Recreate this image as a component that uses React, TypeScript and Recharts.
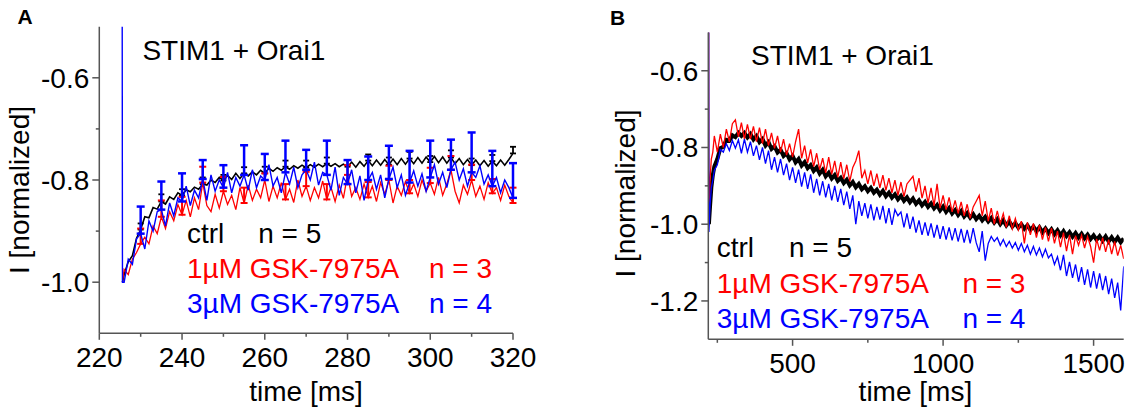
import React from 'react';
import { LineChart, Line, XAxis, YAxis, ErrorBar } from 'recharts';

const FONT = '"Liberation Sans", Arial, Helvetica, sans-serif';
const AXIS = '#555555';
const RED = '#ff0000';
const BLUE = '#0000ff';
const BLACK = '#000000';

// ---------- Panel A (time in ms, 220–320) ----------
const timeA = [
  225.5, 225.6,
  226, 227, 228, 229, 230, 231, 232, 233, 234, 235,
  236, 237, 238, 239, 240, 241, 242, 243, 244, 245,
  246, 247, 248, 249, 250, 251, 252, 253, 254, 255,
  256, 257, 258, 259, 260, 261, 262, 263, 264, 265,
  266, 267, 268, 269, 270, 271, 272, 273, 274, 275,
  276, 277, 278, 279, 280, 281, 282, 283, 284, 285,
  286, 287, 288, 289, 290, 291, 292, 293, 294, 295,
  296, 297, 298, 299, 300, 301, 302, 303, 304, 305,
  306, 307, 308, 309, 310, 311, 312, 313, 314, 315,
  316, 317, 318, 319, 320,
];

const ctrlA = [
  null, -1.0,
  -0.985, -0.96, -0.948, -0.914, -0.897, -0.872, -0.874, -0.854, -0.857, -0.842,
  -0.847, -0.833, -0.838, -0.825, -0.83, -0.819, -0.823, -0.814, -0.818, -0.808,
  -0.81, -0.8, -0.805, -0.795, -0.801, -0.791, -0.799, -0.787, -0.797, -0.787,
  -0.792, -0.784, -0.79, -0.781, -0.787, -0.777, -0.783, -0.776, -0.781, -0.774,
  -0.779, -0.772, -0.777, -0.771, -0.776, -0.77, -0.775, -0.769, -0.774, -0.768,
  -0.773, -0.768, -0.774, -0.769, -0.774, -0.765, -0.775, -0.764, -0.773, -0.762,
  -0.772, -0.761, -0.771, -0.76, -0.77, -0.759, -0.77, -0.758, -0.769, -0.758,
  -0.768, -0.756, -0.767, -0.755, -0.765, -0.754, -0.766, -0.755, -0.767, -0.756,
  -0.768, -0.758, -0.77, -0.76, -0.771, -0.761, -0.772, -0.762, -0.773, -0.763,
  -0.772, -0.761, -0.771, -0.76, -0.748,
];

const gsk1A = [
  null, -1.0,
  -0.975, -0.985, -0.955, -0.942, -0.925, -0.912, -0.925, -0.89, -0.905, -0.872,
  -0.895, -0.862, -0.88, -0.848, -0.868, -0.84, -0.872, -0.835, -0.858, -0.805,
  -0.85, -0.862, -0.828, -0.855, -0.822, -0.848, -0.83, -0.858, -0.815, -0.845,
  -0.81, -0.84, -0.818, -0.835, -0.8, -0.842, -0.812, -0.835, -0.805, -0.838,
  -0.818, -0.844, -0.8, -0.832, -0.812, -0.84, -0.815, -0.835, -0.802, -0.838,
  -0.814, -0.842, -0.81, -0.836, -0.79, -0.832, -0.815, -0.838, -0.808, -0.834,
  -0.812, -0.842, -0.805, -0.828, -0.8, -0.845, -0.812, -0.83, -0.803, -0.826,
  -0.808, -0.832, -0.8, -0.822, -0.806, -0.828, -0.795, -0.83, -0.808, -0.78,
  -0.822, -0.845, -0.81, -0.828, -0.8, -0.832, -0.812, -0.838, -0.805, -0.826,
  -0.815, -0.84, -0.81, -0.832, -0.845,
];

const gsk3A = [
  -0.2, -1.0,
  -1.0, -0.955, -0.965, -0.915, -0.905, -0.935, -0.88, -0.9, -0.862, -0.858,
  -0.89, -0.845, -0.87, -0.835, -0.842, -0.812, -0.85, -0.82, -0.835, -0.798,
  -0.84, -0.79, -0.822, -0.8, -0.815, -0.785, -0.825, -0.795, -0.812, -0.79,
  -0.82, -0.78, -0.815, -0.792, -0.8, -0.77, -0.812, -0.795, -0.825, -0.785,
  -0.808, -0.775, -0.815, -0.79, -0.78, -0.8, -0.765, -0.81, -0.785, -0.79,
  -0.82, -0.775, -0.83, -0.795, -0.808, -0.78, -0.825, -0.792, -0.84, -0.8,
  -0.785, -0.818, -0.79, -0.835, -0.798, -0.775, -0.815, -0.79, -0.83, -0.805,
  -0.782, -0.812, -0.788, -0.822, -0.795, -0.77, -0.808, -0.785, -0.815, -0.78,
  -0.765, -0.8, -0.778, -0.812, -0.785, -0.795, -0.772, -0.808, -0.79, -0.812,
  -0.795, -0.825, -0.8, -0.815, -0.835,
];

const errTimesA = [230, 235, 240, 245, 250, 255, 260, 265, 270, 275, 280, 285, 290, 295, 300, 305, 310, 315, 320];
const errCtrlA = [0.012, 0.014, 0.012, 0.013, 0.011, 0.012, 0.013, 0.012, 0.014, 0.012, 0.013, 0.012, 0.014, 0.013, 0.012, 0.014, 0.013, 0.012, 0.013];
const errGsk1A = [0.03, 0.032, 0.035, 0.031, 0.028, 0.03, 0.013, 0.03, 0.028, 0.03, 0.019, 0.03, 0.028, 0.026, 0.03, 0.027, 0.03, 0.028, 0.03];
const errGsk3A = [0.053, 0.055, 0.055, 0.037, 0.044, 0.058, 0.051, 0.062, 0.039, 0.067, 0.047, 0.046, 0.065, 0.062, 0.072, 0.059, 0.078, 0.069, 0.068];

const xTicksA = [220, 230, 240, 250, 260, 270, 280, 290, 300, 310, 320];
const xMajorsA = [220, 240, 260, 280, 300, 320];
const yTicksA = [-1.0, -0.9, -0.8, -0.7, -0.6];
const yMajorsA = [-1.0, -0.8, -0.6];

// ---------- Panel B (time in ms, 220–1600) ----------
const timeB = [
  221, 222, 226, 230, 235, 240,
  250, 260, 270, 280, 290, 300, 310, 320, 330, 340,
  350, 360, 370, 380, 390, 400, 410, 420, 430, 440,
  450, 460, 470, 480, 490, 500, 510, 520, 530, 540,
  550, 560, 570, 580, 590, 600, 610, 620, 630, 640,
  650, 660, 670, 680, 690, 700, 710, 720, 730, 740,
  750, 760, 770, 780, 790, 800, 810, 820, 830, 840,
  850, 860, 870, 880, 890, 900, 910, 920, 930, 940,
  950, 960, 970, 980, 990, 1000, 1010, 1020, 1030, 1040,
  1050, 1060, 1070, 1080, 1090, 1100, 1110, 1120, 1130, 1140,
  1150, 1160, 1170, 1180, 1190, 1200, 1210, 1220, 1230, 1240,
  1250, 1260, 1270, 1280, 1290, 1300, 1310, 1320, 1330, 1340,
  1350, 1360, 1370, 1380, 1390, 1400, 1410, 1420, 1430, 1440,
  1450, 1460, 1470, 1480, 1490, 1500, 1510, 1520, 1530, 1540,
  1550, 1560, 1570, 1580, 1590, 1600,
];

const ctrlB = [
  null, -1.0, -0.95, -0.905, -0.872, -0.85,
  -0.83, -0.802, -0.798, -0.78, -0.782, -0.768, -0.773, -0.762, -0.77, -0.762,
  -0.774, -0.765, -0.779, -0.77, -0.786, -0.778, -0.795, -0.786, -0.804, -0.797,
  -0.813, -0.806, -0.822, -0.815, -0.831, -0.822, -0.839, -0.83, -0.847, -0.838,
  -0.854, -0.846, -0.861, -0.852, -0.868, -0.858, -0.875, -0.866, -0.881, -0.872,
  -0.887, -0.879, -0.893, -0.884, -0.899, -0.89, -0.904, -0.895, -0.909, -0.901,
  -0.914, -0.905, -0.918, -0.91, -0.923, -0.913, -0.927, -0.918, -0.931, -0.922,
  -0.935, -0.926, -0.939, -0.93, -0.943, -0.933, -0.947, -0.938, -0.951, -0.942,
  -0.955, -0.946, -0.959, -0.95, -0.964, -0.954, -0.968, -0.958, -0.972, -0.963,
  -0.976, -0.966, -0.98, -0.971, -0.983, -0.974, -0.987, -0.978, -0.99, -0.981,
  -0.993, -0.984, -0.996, -0.987, -1.0, -0.99, -1.003, -0.993, -1.006, -0.997,
  -1.009, -1.0, -1.012, -1.003, -1.015, -1.006, -1.018, -1.008, -1.021, -1.011,
  -1.023, -1.013, -1.026, -1.016, -1.029, -1.018, -1.031, -1.021, -1.033, -1.023,
  -1.035, -1.025, -1.037, -1.027, -1.039, -1.029, -1.041, -1.031, -1.043, -1.032,
  -1.045, -1.034, -1.046, -1.035, -1.047, -1.037,
];

const gsk1B = [
  -0.3, -0.98, -0.88, -0.83, -0.812, -0.77,
  -0.812, -0.765, -0.8, -0.752, -0.785, -0.738, -0.728, -0.772, -0.735, -0.778,
  -0.74, -0.778, -0.745, -0.785, -0.748, -0.79, -0.752, -0.795, -0.762, -0.802,
  -0.77, -0.812, -0.778, -0.82, -0.79, -0.825, -0.785, -0.752, -0.828, -0.795,
  -0.84, -0.805, -0.85, -0.815, -0.858, -0.828, -0.866, -0.825, -0.87, -0.835,
  -0.878, -0.838, -0.882, -0.845, -0.888, -0.852, -0.835, -0.808, -0.88, -0.86,
  -0.895, -0.86, -0.9, -0.868, -0.905, -0.872, -0.912, -0.88, -0.918, -0.885,
  -0.925, -0.89, -0.928, -0.895, -0.885, -0.875, -0.915, -0.88, -0.932, -0.9,
  -0.945, -0.905, -0.952, -0.895, -0.958, -0.925, -0.962, -0.93, -0.968, -0.938,
  -0.972, -0.942, -0.978, -0.948, -0.985, -0.955, -0.94, -0.925, -0.978, -0.94,
  -0.992, -0.958, -1.0, -0.965, -0.998, -0.972, -1.008, -0.978, -1.012, -0.985,
  -1.015, -0.992, -1.05, -0.995, -1.028, -0.998, -1.035, -1.002, -1.04, -1.008,
  -1.045, -1.01, -1.05, -1.018, -1.06, -1.022, -1.07, -1.028, -1.078, -1.03,
  -1.055, -1.028, -1.062, -1.032, -1.058, -1.1, -1.038, -1.068, -1.035, -1.072,
  -1.04, -1.078, -1.045, -1.082, -1.055, -1.09,
];

const gsk3B = [
  -0.3, -1.02, -0.95, -0.905, -0.885, -0.86,
  -0.845, -0.805, -0.812, -0.79, -0.808, -0.782, -0.802, -0.78, -0.815, -0.778,
  -0.812, -0.785, -0.822, -0.795, -0.832, -0.8, -0.842, -0.808, -0.858, -0.825,
  -0.865, -0.83, -0.872, -0.842, -0.885, -0.852, -0.892, -0.858, -0.902, -0.865,
  -0.908, -0.87, -0.918, -0.882, -0.925, -0.888, -0.93, -0.895, -0.938, -0.9,
  -0.942, -0.908, -0.95, -0.915, -0.96, -0.925, -1.0, -0.94, -0.978, -0.945,
  -0.985, -0.948, -0.99, -0.955, -0.988, -0.952, -0.998, -0.958, -1.002, -0.962,
  -0.978, -0.968, -1.008, -0.972, -1.012, -0.98, -1.022, -0.99, -1.028, -0.995,
  -1.03, -0.998, -1.035, -1.002, -1.038, -1.005, -1.04, -1.008, -1.042, -1.01,
  -1.045, -1.012, -1.048, -1.015, -1.05, -1.01, -1.048, -1.072, -1.018, -1.095,
  -1.05, -1.032, -1.045, -1.035, -1.055, -1.04, -1.058, -1.045, -1.062, -1.048,
  -1.068, -1.05, -1.072, -1.055, -1.078, -1.058, -1.08, -1.062, -1.085, -1.065,
  -1.088, -1.078, -1.105, -1.085, -1.12, -1.08, -1.135, -1.098, -1.14, -1.105,
  -1.15, -1.112, -1.158, -1.118, -1.165, -1.122, -1.168, -1.128, -1.172, -1.135,
  -1.182, -1.142, -1.192, -1.152, -1.225, -1.11,
];

const xTicksB = [250, 500, 750, 1000, 1250, 1500];
const xMajorsB = [500, 1000, 1500];
const yTicksB = [-1.2, -1.1, -1.0, -0.9, -0.8, -0.7, -0.6];
const yMajorsB = [-1.2, -1.0, -0.8, -0.6];

// ---------- tables ----------
const dataA = timeA.map((t, i) => {
  const k = errTimesA.indexOf(t);
  return {
    t,
    ctrl: ctrlA[i],
    gsk1: gsk1A[i],
    gsk3: gsk3A[i],
    eCtrl: k >= 0 ? [0, errCtrlA[k]] : undefined,
    eGsk1: k >= 0 ? [0, errGsk1A[k]] : undefined,
    eGsk3: k >= 0 ? [0, errGsk3A[k]] : undefined,
  };
});

const dataB = timeB.map((t, i) => ({ t, ctrl: ctrlB[i], gsk1: gsk1B[i], gsk3: gsk3B[i] }));

const isMajor = (v: number, majors: number[]) => majors.some((m) => Math.abs(m - v) < 1e-6);

const makeXTick = (majors: number[]) => (props: any) => {
  const { x, y, payload } = props;
  const major = isMajor(payload.value, majors);
  return (
    <g>
      <line x1={x} x2={x} y1={y} y2={y + (major ? 6.5 : 3.5)} stroke={AXIS} strokeWidth={1.5} />
      {major && (
        <text x={x} y={y + 33.4} textAnchor="middle" fontSize={28} fontFamily={FONT} fill="#000">
          {String(payload.value)}
        </text>
      )}
    </g>
  );
};

const makeYTick = (majors: number[]) => (props: any) => {
  const { x, y, payload } = props;
  const major = isMajor(payload.value, majors);
  return (
    <g>
      <line x1={x} x2={x - (major ? 7 : 3.5)} y1={y} y2={y} stroke={AXIS} strokeWidth={1.5} />
      {major && (
        <text x={x - 10} y={y + 10} textAnchor="end" fontSize={28} fontFamily={FONT} fill="#000">
          {Number(payload.value).toFixed(1)}
        </text>
      )}
    </g>
  );
};

const txt = (x: number, y: number, s: string, color: string, extra: any = {}) => (
  <text x={x} y={y} fontSize={28} fontFamily={FONT} fill={color} {...extra}>
    {s}
  </text>
);

export default function App() {
  return (
    <div style={{ position: 'absolute', left: 0, top: 0, width: 1125, height: 407, background: '#fff', overflow: 'hidden' }}>
      <div style={{ position: 'absolute', left: 0, top: 0 }}>
        <LineChart width={560} height={407} data={dataA} margin={{ top: 26.7, right: 47, bottom: 72.7, left: 98.3 }}>
          <XAxis
            type="number"
            dataKey="t"
            domain={[220, 320]}
            ticks={xTicksA}
            interval={0}
            allowDataOverflow
            height={1}
            tickLine={false}
            tickSize={0}
            tickMargin={0}
            axisLine={{ stroke: AXIS, strokeWidth: 1.5 }}
            tick={makeXTick(xMajorsA)}
          />
          <YAxis
            type="number"
            domain={[-1.1, -0.5]}
            ticks={yTicksA}
            interval={0}
            allowDataOverflow
            width={1}
            tickLine={false}
            tickSize={0}
            tickMargin={0}
            axisLine={{ stroke: AXIS, strokeWidth: 1.5 }}
            tick={makeYTick(yMajorsA)}
          />
          <Line type="linear" dataKey="ctrl" stroke={BLACK} strokeWidth={1.6} dot={false} isAnimationActive={false}>
            <ErrorBar dataKey="eCtrl" direction="y" width={3} stroke={BLACK} strokeWidth={1.8} isAnimationActive={false} />
          </Line>
          <Line type="linear" dataKey="gsk1" stroke={RED} strokeWidth={1.3} dot={false} isAnimationActive={false}>
            <ErrorBar dataKey="eGsk1" direction="y" width={3.5} stroke={RED} strokeWidth={2} isAnimationActive={false} />
          </Line>
          <Line type="linear" dataKey="gsk3" stroke={BLUE} strokeWidth={1.4} dot={false} isAnimationActive={false}>
            <ErrorBar dataKey="eGsk3" direction="y" width={4} stroke={BLUE} strokeWidth={2.5} isAnimationActive={false} />
          </Line>
        </LineChart>
      </div>

      <div style={{ position: 'absolute', left: 560, top: 0 }}>
        <LineChart width={565} height={407} data={dataB} margin={{ top: 32.4, right: 1.3, bottom: 66.7, left: 147.3 }}>
          <XAxis
            type="number"
            dataKey="t"
            domain={[220, 1600]}
            ticks={xTicksB}
            interval={0}
            allowDataOverflow
            height={1}
            tickLine={false}
            tickSize={0}
            tickMargin={0}
            axisLine={{ stroke: AXIS, strokeWidth: 1.5 }}
            tick={makeXTick(xMajorsB)}
          />
          <YAxis
            type="number"
            domain={[-1.3, -0.5]}
            ticks={yTicksB}
            interval={0}
            allowDataOverflow
            width={1}
            tickLine={false}
            tickSize={0}
            tickMargin={0}
            axisLine={{ stroke: AXIS, strokeWidth: 1.5 }}
            tick={makeYTick(yMajorsB)}
          />
          <Line type="linear" dataKey="ctrl" stroke={BLACK} strokeWidth={4} dot={false} isAnimationActive={false} />
          <Line type="linear" dataKey="gsk1" stroke={RED} strokeWidth={1.3} dot={false} isAnimationActive={false} />
          <Line type="linear" dataKey="gsk3" stroke={BLUE} strokeWidth={1.3} dot={false} isAnimationActive={false} />
        </LineChart>
      </div>

      <svg width={1125} height={407} style={{ position: 'absolute', left: 0, top: 0, pointerEvents: 'none' }}>
        {/* Panel A */}
        <text x={17.5} y={24} fontSize={21} fontWeight="bold" fontFamily={FONT} fill="#000">A</text>
        {txt(142.4, 59.5, 'STIM1 + Orai1', BLACK)}
        {txt(187, 243.3, 'ctrl', BLACK)}
        {txt(258.2, 243.3, 'n = 5', BLACK)}
        {txt(187, 278.3, '1µM GSK-7975A', RED)}
        {txt(429, 278.3, 'n = 3', RED)}
        {txt(187, 313.3, '3µM GSK-7975A', BLUE)}
        {txt(429, 313.3, 'n = 4', BLUE)}
        {txt(306, 401, 'time [ms]', BLACK, { textAnchor: 'middle' })}
        <text
          x={0}
          y={0}
          fontSize={28}
          fontFamily={FONT}
          fill="#000"
          textAnchor="middle"
          dominantBaseline="central"
          transform="translate(19.5,190) rotate(-90)"
        >
          I [normalized]
        </text>

        {/* Panel B */}
        <text x={610} y={25} fontSize={21} fontWeight="bold" fontFamily={FONT} fill="#000">B</text>
        {txt(751, 65, 'STIM1 + Orai1', BLACK)}
        {txt(716.7, 257.3, 'ctrl', BLACK)}
        {txt(789, 257.3, 'n = 5', BLACK)}
        {txt(716.7, 292.7, '1µM GSK-7975A', RED)}
        {txt(962.4, 292.7, 'n = 3', RED)}
        {txt(716.7, 328.3, '3µM GSK-7975A', BLUE)}
        {txt(962.4, 328.3, 'n = 4', BLUE)}
        {txt(915.4, 401, 'time [ms]', BLACK, { textAnchor: 'middle' })}
        <text
          x={0}
          y={0}
          fontSize={28}
          fontFamily={FONT}
          fill="#000"
          textAnchor="middle"
          dominantBaseline="central"
          transform="translate(625.6,193.5) rotate(-90)"
        >
          I [normalized]
        </text>
      </svg>
    </div>
  );
}
